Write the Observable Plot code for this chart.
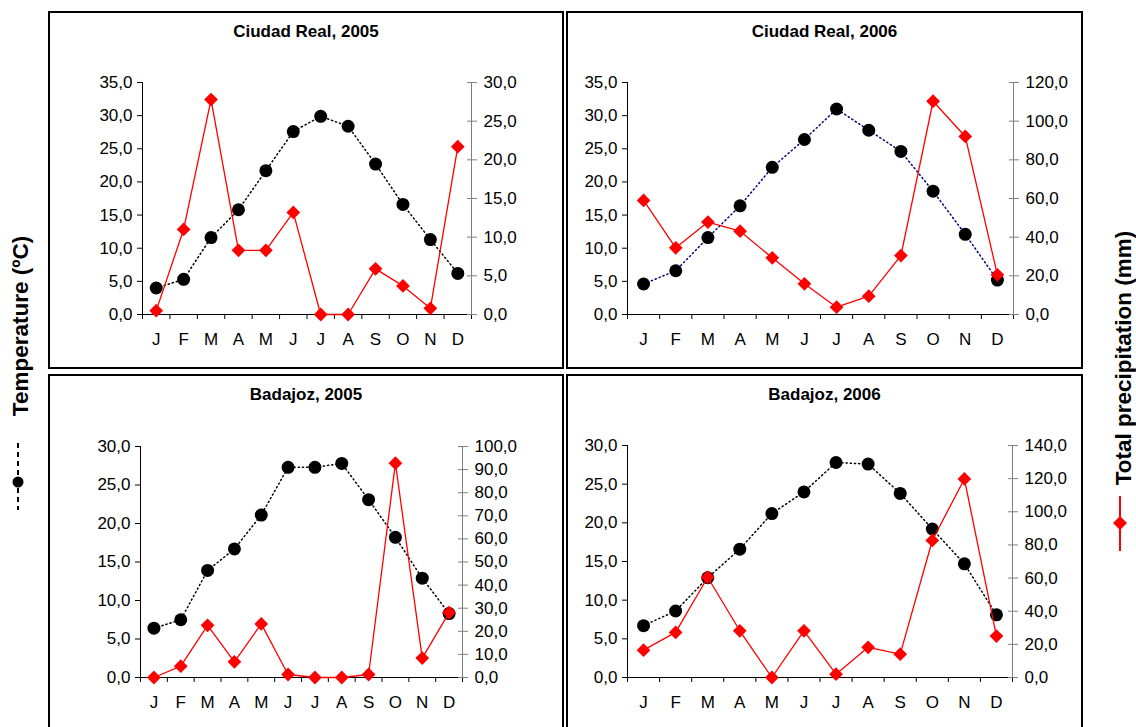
<!DOCTYPE html>
<html><head><meta charset="utf-8">
<script src="https://cdn.jsdelivr.net/npm/d3@7"></script>
<script src="https://cdn.jsdelivr.net/npm/@observablehq/plot@0.6"></script>
<style>
body{margin:0;background:#fff;width:1136px;height:727px;overflow:hidden;position:relative;font-family:"Liberation Sans",Arial,sans-serif;color:#000;}
.frame{position:absolute;border:2px solid #000;box-sizing:border-box;}
.layer{position:absolute;}
.title{position:absolute;font-weight:bold;font-size:17px;text-align:center;line-height:20px;}
.side{position:absolute;font-weight:bold;font-size:22.5px;white-space:nowrap;transform:translate(-50%,-50%) rotate(-90deg);}
</style></head><body>
<script>
// ---- data ----
const months = ["J","F","M","A","M","J","J","A","S","O","N","D"];
const titles = ["Ciudad Real, 2005","Ciudad Real, 2006","Badajoz, 2005","Badajoz, 2006"];
const tempCR2005 = [4.0,5.3,11.6,15.8,21.7,27.6,29.9,28.4,22.7,16.6,11.3,6.2];
const precCR2005 = [0.5,11.0,27.8,8.3,8.3,13.2,0,0,5.9,3.7,0.8,21.7];
const tempCR2006 = [4.6,6.6,11.6,16.4,22.2,26.4,31.0,27.8,24.6,18.6,12.1,5.2];
const precCR2006 = [59.0,34.5,47.8,43.1,29.3,15.9,3.8,9.5,30.5,110.3,92.1,20.5];
const tempBA2005 = [6.4,7.5,13.9,16.7,21.1,27.3,27.3,27.8,23.1,18.2,12.9,8.3];
const precBA2005 = [0,4.9,22.6,6.8,23.2,1.3,0,0,1.3,92.8,8.4,28.1];
const tempBA2006 = [6.7,8.6,12.9,16.6,21.2,24.0,27.8,27.6,23.8,19.2,14.7,8.1];
const precBA2006 = [16.5,27.2,60.5,28.2,0,28.2,2.0,18.2,14.1,82.7,119.8,25.0];
const tempMax = [35,35,30,30];
const tempStep = [5,5,5,5];
const precMax = [30,120,100,140];
const precStep = [5,20,10,20];
const tempStroke = ["#000","#000080","#000","#000"];

const temps = [tempCR2005,tempCR2006,tempBA2005,tempBA2006];
const precs = [precCR2005,precCR2006,precBA2005,precBA2006];

// ---- layout ----
const boxes = [
  {left:48, top:11, width:516, height:358, mL:94, mR:93, mT:71, mB:55, titleY:22},
  {left:566, top:11, width:517, height:358, mL:61, mR:70, mT:71, mB:55, titleY:22},
  {left:48, top:374, width:516, height:365, mL:92, mR:102, mT:72, mB:62, titleY:385},
  {left:566, top:374, width:517, height:365, mL:61, mR:71, mT:71, mB:62, titleY:385}
];

const fmt = d3.formatLocale({decimal:",", thousands:".", grouping:[3], currency:["","€"]}).format(".1f");
const fontFamily = '"Liberation Sans", Arial, sans-serif';

function addLayer(svg, b){
  const d = document.createElement("div");
  d.className = "layer";
  d.style.left = b.left+"px"; d.style.top = b.top+"px";
  d.style.width = b.width+"px"; d.style.height = b.height+"px";
  d.appendChild(svg);
  document.body.appendChild(d);
}

boxes.forEach((b, k) => {
  const fr = document.createElement("div");
  fr.className = "frame";
  fr.style.left = b.left+"px"; fr.style.top = b.top+"px";
  fr.style.width = b.width+"px"; fr.style.height = b.height+"px";
  document.body.appendChild(fr);

  const data = months.map((m,i) => ({i: i+0.5, t: temps[k][i], p: precs[k][i]}));
  const common = {
    width: b.width, height: b.height,
    marginLeft: b.mL, marginRight: b.mR, marginTop: b.mT, marginBottom: b.mB,
    style: {background:"transparent", fontFamily, fontSize:"17px", color:"#000", overflow:"visible"}
  };
  const tTicks = d3.range(0, tempMax[k] + 1e-9, tempStep[k]);
  const pTicks = d3.range(0, precMax[k] + 1e-9, precStep[k]);

  const svgT = Plot.plot({
    ...common,
    x: {type:"linear", domain:[0,12], label:null},
    y: {domain:[0,tempMax[k]], label:null},
    marks: [
      Plot.axisX({ticks: d3.range(13), tickSize:5, tickFormat: () => "", label:null}),
      Plot.axisX({ticks: d3.range(12).map(i => i+0.5), tickSize:0, tickPadding:18, tickFormat: d => months[Math.floor(d)], label:null}),
      Plot.axisY({ticks: tTicks, tickSize:5, tickPadding:5, tickFormat: fmt, label:null}),
      Plot.ruleX([0], {stroke:"#000"}),
      Plot.ruleY([0], {stroke:"#000"}),
      Plot.line(data, {x:"i", y:"t", stroke: tempStroke[k], strokeWidth:1.5, strokeDasharray:"1.2,3"}),
      Plot.dot(data, {x:"i", y:"t", r:6.5, fill:"#000", stroke:"none"})
    ]
  });
  addLayer(svgT, b);

  const svgP = Plot.plot({
    ...common,
    x: {type:"linear", domain:[0,12], axis:null, label:null},
    y: {domain:[0,precMax[k]], label:null},
    marks: [
      Plot.ruleX([12], {stroke:"#808080"}),
      Plot.axisY({anchor:"right", ticks: pTicks, tickSize:10, dx:-5, tickFormat: () => "", stroke:"#808080", label:null}),
      Plot.axisY({anchor:"right", ticks: pTicks, tickSize:0, tickPadding:12, tickFormat: fmt, label:null}),
      Plot.line(data, {x:"i", y:"p", stroke:"#ff0000", strokeWidth:1.3}),
      Plot.dot(data, {x:"i", y:"p", symbol:"diamond2", r:6.2, fill:"#ff0000", stroke:"none"})
    ]
  });
  addLayer(svgP, b);

  const t = document.createElement("div");
  t.className = "title";
  t.style.left = b.left+"px"; t.style.width = b.width+"px"; t.style.top = b.titleY+"px";
  t.textContent = titles[k];
  document.body.appendChild(t);
});

// side labels
const lt = document.createElement("div");
lt.className = "side"; lt.style.left = "21px"; lt.style.top = "326px";
lt.textContent = "Temperature (ºC)";
document.body.appendChild(lt);
const rt = document.createElement("div");
rt.className = "side"; rt.style.left = "1124px"; rt.style.top = "358px";
rt.textContent = "Total precipitation (mm)";
document.body.appendChild(rt);

// legend keys
const ns = "http://www.w3.org/2000/svg";
function keySvg(x, y, w, h, inner){
  const s = document.createElementNS(ns, "svg");
  s.setAttribute("width", w); s.setAttribute("height", h);
  s.style.position = "absolute"; s.style.left = x+"px"; s.style.top = y+"px";
  s.innerHTML = inner;
  document.body.appendChild(s);
}
keySvg(8, 440, 20, 75, '<line x1="10" y1="3" x2="10" y2="70" stroke="#000" stroke-width="2" stroke-dasharray="5,4"/><circle cx="10" cy="42" r="5.5" fill="#000"/>');
keySvg(1110, 493, 20, 62, '<line x1="10" y1="3" x2="10" y2="58" stroke="#f00" stroke-width="2"/><path d="M10,23 L17,30 L10,37 L3,30Z" fill="#f00"/>');
</script>
</body></html>
